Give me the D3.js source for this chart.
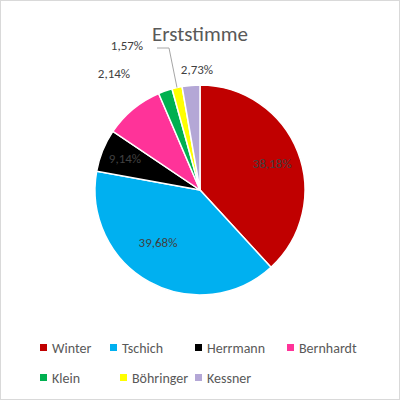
<!DOCTYPE html>
<html><head><meta charset="utf-8">
<script src="https://cdn.jsdelivr.net/npm/d3@7"></script>
<style>body{margin:0;background:#fff}</style></head>
<body><div id="canvas"></div>
<script>
// DATA
const names = ["Winter", "Tschich", "Herrmann", "Bernhardt", "Klein", "Böhringer", "Kessner"];
const values = [38.18, 39.68, 6.56, 9.14, 2.14, 1.57, 2.73];
const colors = ["#c00000", "#00b0f0", "#000000", "#ff3399", "#00b050", "#ffff00", "#b4a7d6"];
const fmt = v => v.toFixed(2).replace(".", ",") + "%";

const svg = d3.select("#canvas").append("svg").attr("width", 400).attr("height", 400)
  .style("font-family", "Calibri, Carlito, 'Liberation Sans', sans-serif");
svg.append("rect").attr("x", 0.5).attr("y", 0.5).attr("width", 399).attr("height", 399)
  .attr("fill", "#fff").attr("stroke", "#d9d9d9");

svg.append("text").attr("x", 200).attr("y", 41).attr("text-anchor", "middle")
  .attr("font-size", 21).attr("fill", "#595959").text("Erststimme");

const cx = 200, cy = 190, r = 105;
const pie = d3.pie().sort(null).value(d => d)(values);
const arc = d3.arc().innerRadius(0).outerRadius(r);
const g = svg.append("g").attr("transform", `translate(${cx},${cy})`);
g.selectAll("path").data(pie).enter().append("path")
  .attr("d", arc).attr("fill", (d, i) => colors[i]).attr("stroke", "#fff").attr("stroke-width", 1.5);

// LABELS (inside for big slices, outside for small ones)
const inner = d3.arc().innerRadius(r * 0.7).outerRadius(r * 0.7);
const outPos = {3: [-75, -32], 4: [-86, -117], 5: [-73, -145], 6: [-3, -121]};
pie.forEach((d, i) => {
  let p;
  if (i <= 2) {
    if (i === 2) return;
    p = inner.centroid(d);
    if (i === 0) p = [72, -27];
    if (i === 1) p = [-42, 52];
  } else {
    p = outPos[i];
    if (i === 5) {
      const m = d3.arc().innerRadius(r).outerRadius(r).centroid(d);
      g.append("polyline").attr("points", `${p[0] + 30},${p[1] + 3} ${p[0] + 42},${p[1] + 3} ${m[0]},${m[1]}`)
        .attr("fill", "none").attr("stroke", "#a6a6a6");
    }
  }
  g.append("text").attr("x", p[0]).attr("y", p[1]).attr("dy", "0.35em")
    .attr("text-anchor", "middle").attr("font-size", 13).attr("fill", "#404040").text(fmt(values[i]));
});

// LEGEND
const rows = [[0, 1, 2, 3], [4, 5, 6]];
const xs = [[40, 110, 195, 287], [40, 120, 195]];
rows.forEach((row, ri) => row.forEach((i, k) => {
  const y = 348 + ri * 30;
  svg.append("rect").attr("x", xs[ri][k]).attr("y", y - 4).attr("width", 7).attr("height", 7).attr("fill", colors[i]);
  svg.append("text").attr("x", xs[ri][k] + 12).attr("y", y).attr("dy", "0.35em")
    .attr("font-size", 14).attr("fill", "#595959").text(names[i]);
}));
</script></body></html>
